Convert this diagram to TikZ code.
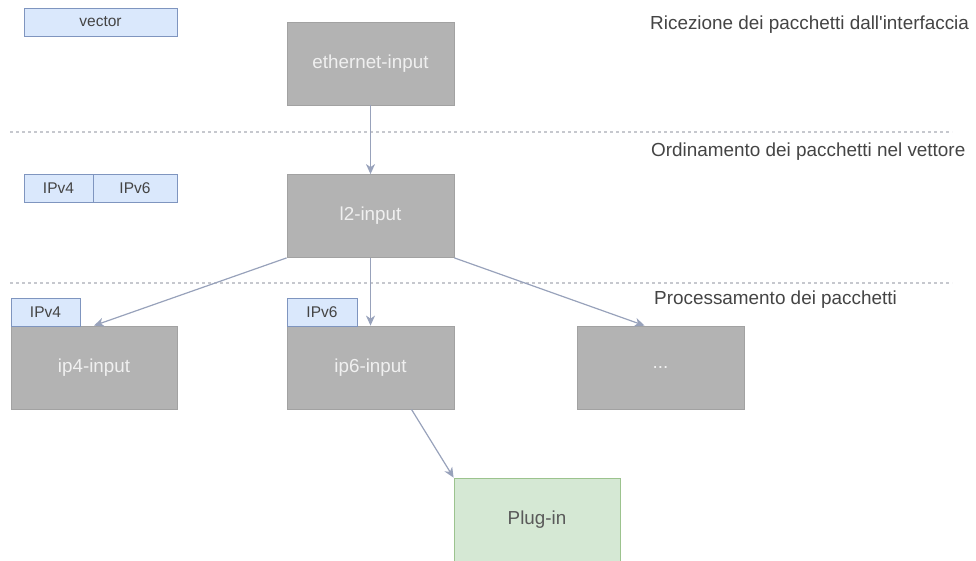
\documentclass[tikz,border=0pt]{standalone}
\usepackage{fontspec}
\setmainfont{Liberation Sans}
\usetikzlibrary{arrows.meta,calc}

\definecolor{nodegray}{HTML}{B3B3B3}
\definecolor{nodegrayline}{HTML}{A2A2A2}
\definecolor{nodetext}{HTML}{F0F0F0}
\definecolor{tagfill}{HTML}{DAE8FC}
\definecolor{tagline}{HTML}{7F95BF}
\definecolor{plugfill}{HTML}{D5E8D4}
\definecolor{plugline}{HTML}{9CC38E}
\definecolor{linkcol}{HTML}{98A2BB}
\definecolor{sepcol}{HTML}{C6C8CE}
\definecolor{labelcol}{HTML}{444444}

\tikzset{
  stage/.style={draw=nodegrayline, fill=nodegray, line width=0.8pt,
    minimum width=167pt, minimum height=83pt, inner sep=0pt,
    text=nodetext, font=\fontsize{18.8}{20}\selectfont},
  tag/.style={draw=tagline, fill=tagfill, line width=0.8pt,
    minimum height=28pt, inner sep=0pt,
    text=labelcol, font=\fontsize{15.5}{17}\selectfont},
  plugbox/.style={draw=plugline, fill=plugfill, line width=0.8pt,
    minimum width=166pt, minimum height=83pt, inner sep=0pt,
    text=black!65, font=\fontsize{18.8}{20}\selectfont},
  phase/.style={anchor=west, inner sep=0pt, text=labelcol,
    font=\fontsize{18.9}{20}\selectfont},
  link/.style={draw=linkcol, line width=1.2pt,
    -{Stealth[length=10pt,width=9pt,inset=3pt]}},
  separator/.style={draw=sepcol, line width=1.8pt, dash pattern=on 3pt off 3pt}
}

\begin{document}
\begin{tikzpicture}[x=1pt, y=-1pt]
\useasboundingbox (0,0) rectangle (976,560);

% phase separators
\draw[separator] (10,132) -- (952,132);
\draw[separator] (10,283) -- (952,283);

% phase descriptions
\node[phase] (ph1) at (650,25) {Ricezione dei pacchetti dall\textquotesingle interfaccia};
\node[phase] (ph2) at (651,152) {Ordinamento dei pacchetti nel vettore};
\node[phase] (ph3) at (654,300) {Processamento dei pacchetti};

% vector legend
\node[tag, minimum width=153pt] (vec) at (100.5,22) {vector};
\node[tag, minimum width=69pt] (v4) at (58.5,188) {IPv4};
\node[tag, minimum width=84pt] (v6) at (135,188) {IPv6};

% graph nodes
\node[stage] (eth) at (370.5,63.5) {ethernet-input};
\node[stage] (l2)  at (370.5,216) {l2-input};
\node[stage, minimum width=166pt] (ip4) at (94,367.5) {ip4-input};
\node[stage] (ip6) at (370.5,367.5) {ip6-input};
\node[stage] (etc) at (660.5,367.5) {...};
\node[plugbox] (plug) at (537,519.5) {Plug-in};

% packet tags on the processing nodes
\node[tag, minimum width=69pt] (t4) at (45.5,312) {IPv4};
\node[tag, minimum width=70pt] (t6) at (322,312) {IPv6};

% connectors
\coordinate (etcin) at ($(etc.north)+(-16,0)$);
\coordinate (ip6out) at ($(ip6.south)+(41,0)$);
\draw[link] (eth.south) -- (l2.north);
\draw[link] (l2.south west) -- (ip4.north);
\draw[link] (l2.south) -- (ip6.north);
\draw[link] (l2.south east) -- (etcin);
\draw[link] (ip6out) -- (plug.north west);
\end{tikzpicture}
\end{document}
